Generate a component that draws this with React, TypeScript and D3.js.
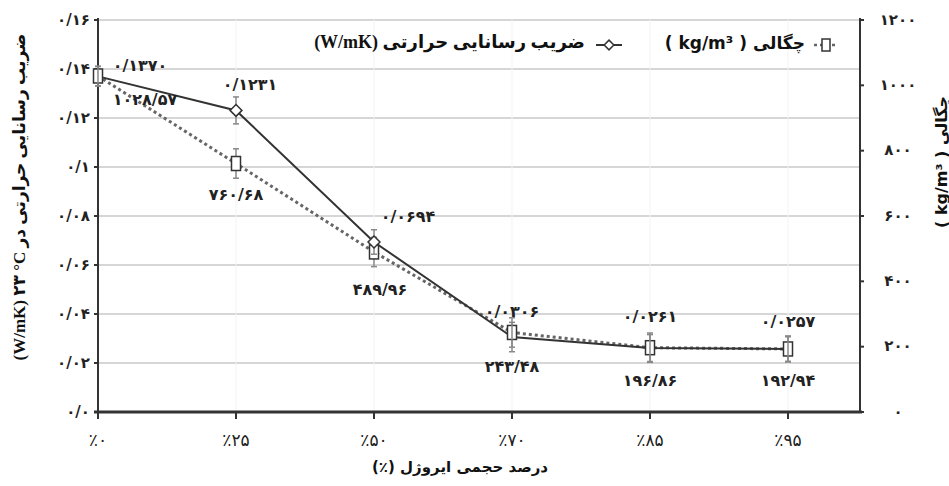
import React from 'react';
import * as d3 from 'd3';

const CATEGORIES = ['٪۰', '٪۲۵', '٪۵۰', '٪۷۰', '٪۸۵', '٪۹۵'];

const CONDUCTIVITY = [0.137, 0.1231, 0.0694, 0.0306, 0.0261, 0.0257];
const CONDUCTIVITY_ERR = [0.004, 0.0055, 0.005, 0.006, 0.0055, 0.005];
const CONDUCTIVITY_LABELS = ['۰/۱۳۷۰', '۰/۱۲۳۱', '۰/۰۶۹۴', '۰/۰۳۰۶', '۰/۰۲۶۱', '۰/۰۲۵۷'];

const DENSITY = [1028.57, 760.68, 489.96, 243.48, 196.86, 192.94];
const DENSITY_ERR = [30, 45, 45, 45, 45, 40];
const DENSITY_LABELS = ['۱۰۲۸/۵۷', '۷۶۰/۶۸', '۴۸۹/۹۶', '۲۴۳/۴۸', '۱۹۶/۸۶', '۱۹۲/۹۴'];

const LEFT_TICKS = [0, 0.02, 0.04, 0.06, 0.08, 0.1, 0.12, 0.14, 0.16];
const LEFT_TICK_LABELS = ['۰/۰', '۰/۰۲', '۰/۰۴', '۰/۰۶', '۰/۰۸', '۰/۱', '۰/۱۲', '۰/۱۴', '۰/۱۶'];
const RIGHT_TICKS = [0, 200, 400, 600, 800, 1000, 1200];
const RIGHT_TICK_LABELS = ['۰', '۲۰۰', '۴۰۰', '۶۰۰', '۸۰۰', '۱۰۰۰', '۱۲۰۰'];

// label nudges (px) relative to each marker
const COND_NUDGE = [[42, -10], [14, -25], [34, -24], [0, -25], [0, -31], [0, -27]];
const DENS_NUDGE = [[47, 24], [0, 32], [6, 39], [0, 35], [0, 34], [0, 33]];

const W = 949;
const H = 486;
const FONT = '"DejaVu Sans", sans-serif';
const SERIF = '"Liberation Serif", "DejaVu Sans", serif';

export default function App() {
  const left = 98, right = 860, top = 20, bottom = 412;

  const x = d3.scalePoint<string>().domain(CATEGORIES).range([left, 788]);
  const yL = d3.scaleLinear().domain([0, 0.16]).range([bottom, top]);
  const yR = d3.scaleLinear().domain([0, 1200]).range([bottom, top]);

  const condLine = d3.line<number>()
    .x((_, i) => x(CATEGORIES[i])!)
    .y(d => yL(d));
  const densLine = d3.line<number>()
    .x((_, i) => x(CATEGORIES[i])!)
    .y(d => yR(d));

  return (
    <svg width={W} height={H} style={{ position: 'absolute', left: 0, top: 0, background: '#fff' }}>
      {/* grid */}
      {LEFT_TICKS.slice(1).map(t => (
        <line key={t} x1={left} x2={right} y1={yL(t)} y2={yL(t)} stroke="#d6d6d6" strokeWidth={2} />
      ))}
      {CATEGORIES.map(c => (
        <line key={c} x1={x(c)} x2={x(c)} y1={top} y2={bottom} stroke="#f3f3f3" strokeWidth={1} />
      ))}

      {/* axes */}
      <line x1={left} x2={left} y1={top - 2} y2={bottom} stroke="#333" strokeWidth={2} />
      <line x1={right} x2={right} y1={top - 2} y2={bottom} stroke="#333" strokeWidth={2} />
      <line x1={left - 4} x2={right + 2} y1={bottom} y2={bottom} stroke="#333" strokeWidth={3} />
      {LEFT_TICKS.map((t, i) => (
        <g key={t}>
          <line x1={left - 4} x2={left} y1={yL(t)} y2={yL(t)} stroke="#333" strokeWidth={2} />
          <text x={left - 8} y={yL(t)} textAnchor="end" dominantBaseline="middle"
            fontFamily={FONT} fontWeight="bold" fontSize={15} fill="#222">{LEFT_TICK_LABELS[i]}</text>
        </g>
      ))}
      {RIGHT_TICKS.map((t, i) => (
        <g key={t}>
          <line x1={right} x2={right + 4} y1={yR(t)} y2={yR(t)} stroke="#333" strokeWidth={2} />
          <text x={898} y={yR(t)} textAnchor="middle" dominantBaseline="middle"
            fontFamily={FONT} fontWeight="bold" fontSize={15} fill="#222">{RIGHT_TICK_LABELS[i]}</text>
        </g>
      ))}
      {CATEGORIES.map(c => (
        <g key={c}>
          <line x1={x(c)} x2={x(c)} y1={bottom} y2={bottom + 7} stroke="#333" strokeWidth={2} />
          <text x={x(c)} y={441} textAnchor="middle" dominantBaseline="middle" direction="ltr"
            fontFamily={FONT} fontSize={17} fill="#222">{c}</text>
        </g>
      ))}

      {/* axis titles */}
      <text x={460} y={467} textAnchor="middle" dominantBaseline="middle" direction="rtl"
        fontFamily={FONT} fontWeight="bold" fontSize={15} fill="#111">درصد حجمی ایروژل (٪)</text>
      <text transform="translate(21,197) rotate(-90)" textAnchor="middle" dominantBaseline="middle"
        direction="ltr" fontFamily={SERIF} fontWeight="bold" fontSize={17} fill="#111">
        (W/mK) ۲۳ °C ضریب رسانایی حرارتی در
      </text>
      <text transform="translate(942,162) rotate(-90)" textAnchor="middle" dominantBaseline="middle"
        direction="ltr" fontFamily={FONT} fontWeight="bold" fontSize={16} fill="#111">
        ( kg/m³ ) چگالی
      </text>

      {/* legend */}
      <text x={585} y={44} textAnchor="end" dominantBaseline="middle" direction="ltr"
        fontFamily={SERIF} fontWeight="bold" fontSize={18} fill="#111">(W/mK) ضریب رسانایی حرارتی</text>
      <line x1={596} x2={622} y1={45} y2={45} stroke="#333" strokeWidth={2} />
      <path d={d3.symbol(d3.symbolDiamond2, 60)()!} transform="translate(609,45)" fill="#fff" stroke="#333" strokeWidth={1.5} />
      <text x={805} y={44} textAnchor="end" dominantBaseline="middle" direction="ltr"
        fontFamily={FONT} fontWeight="bold" fontSize={17} fill="#111">( kg/m³ ) چگالی</text>
      <line x1={814} x2={838} y1={45} y2={45} stroke="#666" strokeWidth={2.5} strokeDasharray="3,3" />
      <rect x={822} y={39} width={8} height={12} fill="#fff" stroke="#333" strokeWidth={1.5} />

      {/* density series */}
      <path d={densLine(DENSITY)!} fill="none" stroke="#666" strokeWidth={3} strokeDasharray="3,3" />
      {/* conductivity series */}
      <path d={condLine(CONDUCTIVITY)!} fill="none" stroke="#333" strokeWidth={2} />

      {DENSITY.map((d, i) => {
        const cx = x(CATEGORIES[i])!;
        return (
          <g key={'d' + i}>
            <line x1={cx} x2={cx} y1={yR(d + DENSITY_ERR[i])} y2={yR(d - DENSITY_ERR[i])} stroke="#888" strokeWidth={1.5} />
            <line x1={cx - 3} x2={cx + 3} y1={yR(d + DENSITY_ERR[i])} y2={yR(d + DENSITY_ERR[i])} stroke="#888" strokeWidth={1.5} />
            <line x1={cx - 3} x2={cx + 3} y1={yR(d - DENSITY_ERR[i])} y2={yR(d - DENSITY_ERR[i])} stroke="#888" strokeWidth={1.5} />
            <rect x={cx - 4.5} y={yR(d) - 7} width={9} height={14} fill="#fff" stroke="#333" strokeWidth={1.5} />
          </g>
        );
      })}
      {CONDUCTIVITY.map((d, i) => {
        const cx = x(CATEGORIES[i])!;
        return (
          <g key={'c' + i}>
            <line x1={cx} x2={cx} y1={yL(d + CONDUCTIVITY_ERR[i])} y2={yL(d - CONDUCTIVITY_ERR[i])} stroke="#888" strokeWidth={1.5} />
            <line x1={cx - 3} x2={cx + 3} y1={yL(d + CONDUCTIVITY_ERR[i])} y2={yL(d + CONDUCTIVITY_ERR[i])} stroke="#888" strokeWidth={1.5} />
            <line x1={cx - 3} x2={cx + 3} y1={yL(d - CONDUCTIVITY_ERR[i])} y2={yL(d - CONDUCTIVITY_ERR[i])} stroke="#888" strokeWidth={1.5} />
            {(i === 1 || i === 2) && (
              <path d={d3.symbol(d3.symbolDiamond2, 90)()!} transform={`translate(${cx},${yL(d)})`} fill="#fff" stroke="#333" strokeWidth={1.5} />
            )}
          </g>
        );
      })}

      {/* data labels */}
      {CONDUCTIVITY.map((d, i) => (
        <text key={'cl' + i} x={x(CATEGORIES[i])! + COND_NUDGE[i][0]} y={yL(d) + COND_NUDGE[i][1]}
          textAnchor="middle" dominantBaseline="middle" fontFamily={FONT} fontWeight="bold" fontSize={16} fill="#222">
          {CONDUCTIVITY_LABELS[i]}
        </text>
      ))}
      {DENSITY.map((d, i) => (
        <text key={'dl' + i} x={x(CATEGORIES[i])! + DENS_NUDGE[i][0]} y={yR(d) + DENS_NUDGE[i][1]}
          textAnchor="middle" dominantBaseline="middle" fontFamily={FONT} fontWeight="bold" fontSize={16} fill="#222">
          {DENSITY_LABELS[i]}
        </text>
      ))}
    </svg>
  );
}
